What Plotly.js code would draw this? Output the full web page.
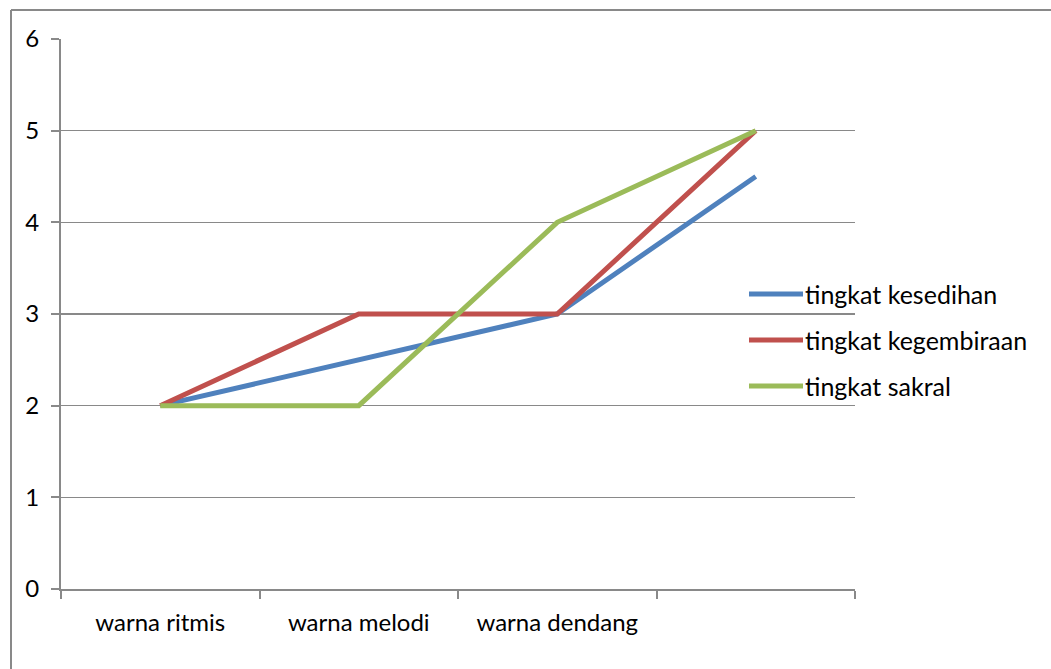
<!DOCTYPE html>
<html>
<head>
<meta charset="utf-8">
<script src="https://cdn.plot.ly/plotly-3.0.1.min.js"></script>
<style>
html,body{margin:0;padding:0;background:#fff;}
#chart{width:1051px;height:669px;}
</style>
</head>
<body>
<div id="chart"></div>
<script>
const categories = ['warna ritmis', 'warna melodi', 'warna dendang', ' '];
const seriesNames = ['tingkat kesedihan', 'tingkat kegembiraan', 'tingkat sakral'];
const kesedihan = [2, 2.5, 3, 4.5];
const kegembiraan = [2, 3, 3, 5];
const sakral = [2, 2, 4, 5];
const yTicks = [0, 1, 2, 3, 4, 5, 6];

const colors = ['#4F81BD', '#C0504D', '#9BBB59'];
const values = [kesedihan, kegembiraan, sakral];

const W = 1051, H = 669;
const L = 61, R = 855, T = 39, B = 589;
const px = x => (x - L) / (R - L);
const py = y => (B - y) / (B - T);
const FONT = 'Lato, sans-serif';

const traces = values.map((v, i) => ({
  type: 'scatter', mode: 'lines', x: categories, y: v, name: seriesNames[i],
  line: {color: colors[i], width: 5}, showlegend: false, hoverinfo: 'none'
}));

const shapes = [
  {type: 'line', xref: 'paper', yref: 'paper', x0: px(11), x1: px(1060), y0: py(10), y1: py(10), line: {color: '#898989', width: 2}},
  {type: 'line', xref: 'paper', yref: 'paper', x0: px(11), x1: px(11), y0: py(10), y1: py(680), line: {color: '#898989', width: 2}}
];
const annotations = [];
const legY = [294, 340, 386];
seriesNames.forEach((n, i) => {
  shapes.push({type: 'line', xref: 'paper', yref: 'paper', x0: px(749), x1: px(803), y0: py(legY[i]), y1: py(legY[i]), line: {color: colors[i], width: 5}});
  annotations.push({xref: 'paper', yref: 'paper', x: px(803), y: py(legY[i]), xanchor: 'left', yanchor: 'middle', text: n, showarrow: false, font: {family: FONT, size: 25, color: '#000'}});
});

const layout = {
  width: W, height: H,
  margin: {l: L, r: W - R, t: T, b: H - B, pad: 0},
  paper_bgcolor: '#fff', plot_bgcolor: '#fff',
  font: {family: FONT, size: 24, color: '#000'},
  xaxis: {
    type: 'category', categoryorder: 'array', categoryarray: categories,
    range: [-0.5, 3.5], tickson: 'boundaries', ticks: 'outside', ticklen: 8, tickwidth: 2, tickcolor: '#898989',
    showline: true, linecolor: '#898989', linewidth: 2, showgrid: false, zeroline: false,
    ticklabelstandoff: 11, fixedrange: true
  },
  yaxis: {
    range: [0, 6], tickvals: yTicks, ticktext: yTicks.map(String),
    ticks: 'outside', ticklen: 8, tickwidth: 2, tickcolor: '#898989',
    showline: true, linecolor: '#898989', linewidth: 2,
    showgrid: true, gridcolor: '#898989', gridwidth: 1.5, zeroline: false,
    ticklabelstandoff: 7, fixedrange: true
  },
  shapes: shapes, annotations: annotations, showlegend: false
};

Plotly.newPlot('chart', traces, layout, {staticPlot: true, displayModeBar: false});
</script>
</body>
</html>
